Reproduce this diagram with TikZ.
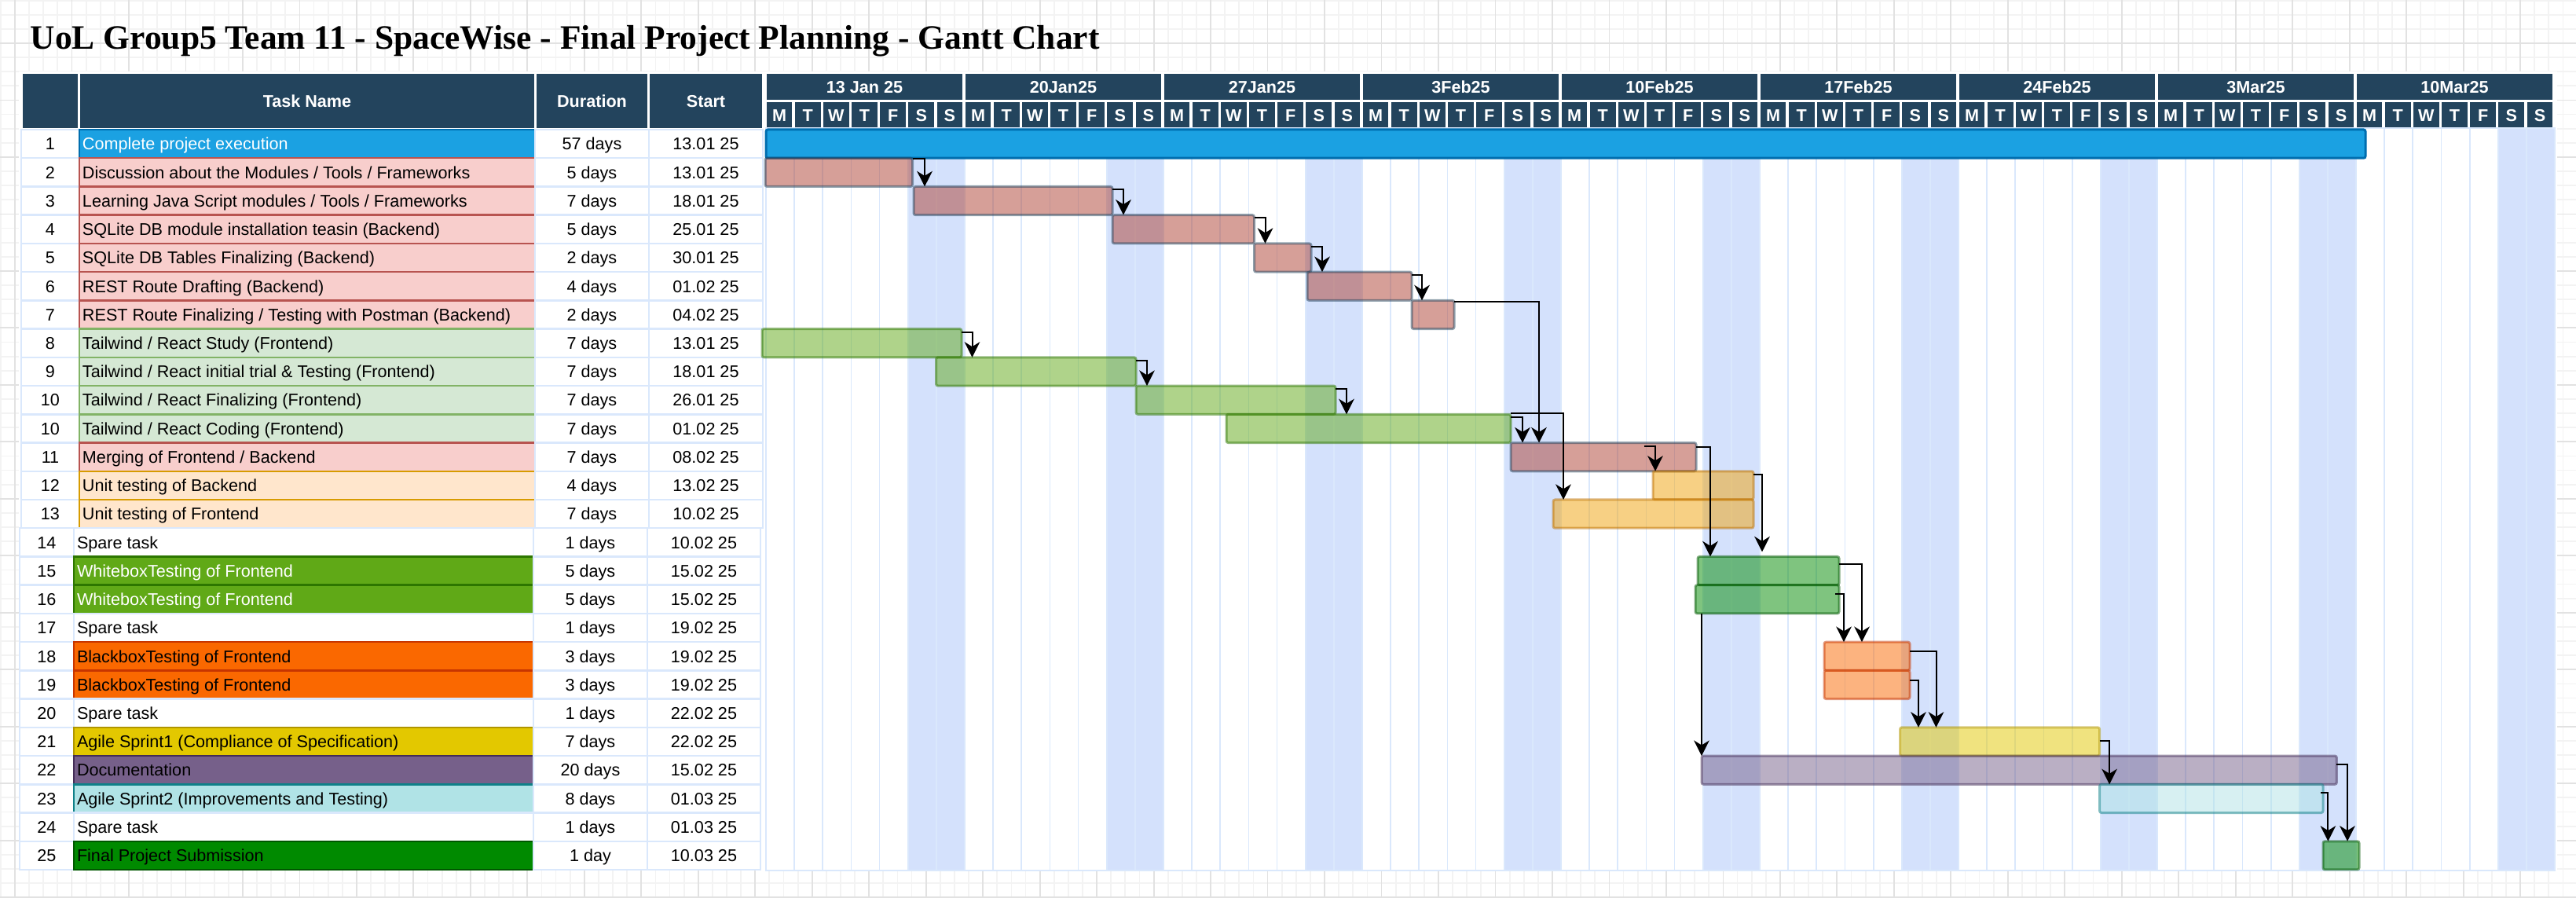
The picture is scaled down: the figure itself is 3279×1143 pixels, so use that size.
\documentclass[tikz,border=0pt]{standalone}
\usepackage{fontspec}
\setmainfont{Liberation Sans}
\newfontfamily\titlefont{Liberation Serif}
\usetikzlibrary{arrows.meta,calc}

\definecolor{hdr}{HTML}{23445D}
\definecolor{gridmin}{HTML}{F3F3F3}
\definecolor{gridmaj}{HTML}{E2E2E2}
\definecolor{lblue}{HTML}{DAE8FC}
\definecolor{wkend}{HTML}{D4E1FC}
\definecolor{blueF}{HTML}{1BA1E2}\definecolor{blueS}{HTML}{006EAF}
\definecolor{pinkF}{HTML}{F8CECC}\definecolor{pinkS}{HTML}{B85450}
\definecolor{lgrnF}{HTML}{D5E8D4}\definecolor{lgrnS}{HTML}{82B366}
\definecolor{lambF}{HTML}{FFE6CC}\definecolor{lambS}{HTML}{D79B00}
\definecolor{grnF}{HTML}{60A917}\definecolor{grnS}{HTML}{2D7600}
\definecolor{orgF}{HTML}{FA6800}\definecolor{orgS}{HTML}{C73500}
\definecolor{ylwF}{HTML}{E3C800}\definecolor{ylwS}{HTML}{B09500}
\definecolor{purF}{HTML}{76608A}\definecolor{purS}{HTML}{432D57}
\definecolor{cynF}{HTML}{B0E3E6}\definecolor{cynS}{HTML}{0E8088}
\definecolor{dgrF}{HTML}{008A00}\definecolor{dgrS}{HTML}{005700}
\definecolor{redB}{HTML}{AE4132}
\definecolor{ambB}{HTML}{F0A30A}\definecolor{ambS}{HTML}{BD7000}

\newcommand\trow[8]{%
  \pgfmathsetmacro\rowtop{165+36.23*#1}%
  \pgfmathsetmacro\rowmid{\rowtop+18.115}%
  \ifnum#1<14 \def\cxa{27}\def\cxb{101}\def\cxc{681}\def\cxd{826}\def\cxe{971}%
  \else \def\cxa{25}\def\cxb{94}\def\cxc{679}\def\cxd{824}\def\cxe{968}\fi
  \node[wcell, minimum width={(\cxb-\cxa)*0.25pt}, anchor=north west] (num#1) at (\cxa,\rowtop) {#2};
  \node[tcell, fill=#6, draw=#7, minimum width={(\cxc-\cxb)*0.25pt}, anchor=north west] (task#1) at (\cxb,\rowtop) {};
  \node[wcell, minimum width={(\cxd-\cxc)*0.25pt}, anchor=north west] (dur#1) at (\cxc,\rowtop) {#4};
  \node[wcell, minimum width={(\cxe-\cxd)*0.25pt}, anchor=north west] (st#1) at (\cxd,\rowtop) {#5};
  \node[txt, text=#8, anchor=west] (tt#1) at (\cxb+4,\rowmid) {#3};
}
\newcommand\gbar[7][]{%
  \pgfmathsetmacro\bartop{165+36.23*#3}%
  \node[bar, fill=#6, draw=#7, minimum width={(#5-#4)*0.25pt}, anchor=north west, #1] (#2) at (#4,\bartop) {};
}

\begin{document}
\begin{tikzpicture}[x=0.25pt,y=-0.25pt,
  txt/.style={font=\fontsize{5.4pt}{6pt}\selectfont, inner sep=0pt, outer sep=0pt, text height=3.9pt, text depth=0pt},
  wcell/.style={rectangle, fill=white, draw=lblue, line width=0.625pt, inner sep=0pt, outer sep=0pt, minimum height=9.0575pt, txt},
  tcell/.style={rectangle, line width=0.625pt, inner sep=0pt, outer sep=0pt, minimum height=9.0575pt},
  hcell/.style={rectangle, fill=hdr, draw=white, line width=0.875pt, inner sep=0pt, outer sep=0pt, text=white, txt, font=\fontsize{5.4pt}{6pt}\selectfont\bfseries},
  bar/.style={rectangle, rounded corners=0.6pt, inner sep=0pt, outer sep=0pt, line width=0.75pt, fill opacity=0.5, draw opacity=0.5, minimum height=9.0575pt},
  dayline/.style={draw=lblue, line width=0.45pt},
  arr/.style={draw=black, line width=0.5pt, -{Stealth[length=4.9pt,width=4.9pt,inset=1.5pt]}}
]
\useasboundingbox (0,0) rectangle (3279,1143);
\fill[white] (0,0) rectangle (3279,1143);
% canvas grid
\foreach \k in {-1,...,179} {\pgfmathsetmacro\gx{19+18.12*\k}\draw[gridmin, line width=0.45pt] (\gx,0) -- (\gx,1143);}
\foreach \k in {-3,...,60} {\pgfmathsetmacro\gy{55+18.12*\k}\draw[gridmin, line width=0.45pt] (0,\gy) -- (3279,\gy);}
\foreach \k in {0,...,44} {\pgfmathsetmacro\gx{19+72.48*\k}\draw[gridmaj, line width=0.45pt] (\gx,0) -- (\gx,1143);}
\foreach \k in {0,...,15} {\pgfmathsetmacro\gy{55+72.48*\k}\draw[gridmaj, line width=0.45pt] (0,\gy) -- (3279,\gy);}
% container
\fill[white] (24,91) rectangle (3255,1108);
% title
\node[anchor=base west, inner sep=0pt, font=\titlefont\bfseries\fontsize{10.87pt}{12pt}\selectfont] (title) at (38,63) {UoL Group5 Team 11 - SpaceWise - Final Project Planning - Gantt Chart};
% table header
\node[hcell, minimum width={73.5*0.25pt}, minimum height={72.5*0.25pt}, anchor=north west] (hnum) at (27,92.5) {};
\node[hcell, minimum width={581*0.25pt}, minimum height={72.5*0.25pt}, anchor=north west] (htask) at (100.5,92.5) {Task Name};
\node[hcell, minimum width={144*0.25pt}, minimum height={72.5*0.25pt}, anchor=north west] (hdur) at (681.5,92.5) {Duration};
\node[hcell, minimum width={146*0.25pt}, minimum height={72.5*0.25pt}, anchor=north west] (hst) at (825.5,92.5) {Start};
% chart header
\foreach \w/\lab in {0/13 Jan 25,1/20Jan25,2/27Jan25,3/3Feb25,4/10Feb25,5/17Feb25,6/24Feb25,7/3Mar25,8/10Mar25} {
  \pgfmathsetmacro\wx{974+253*\w}
  \node[hcell, minimum width={253*0.25pt}, minimum height={36.2*0.25pt}, anchor=north west] (wk\w) at (\wx,92.5) {\lab};
  \foreach \j/\dl in {0/M,1/T,2/W,3/T,4/F,5/S,6/S} {
    \pgfmathsetmacro\dx{974+253*\w+36.143*\j}
    \node[hcell, minimum width={36.143*0.25pt}, minimum height={36.3*0.25pt}, anchor=north west] (d\w-\j) at (\dx,128.7) {\dl};
  }
}
% chart body
\foreach \w in {0,...,8} {\fill[wkend] ({975+253*\w+5*36.143},163) rectangle +(72.29,945);}
\foreach \d in {1,...,62} {\draw[dayline] ({975+36.143*\d},163) -- ++(0,945);}
\draw[dayline] (975,163) rectangle (3252,1108);
% table rows
\trow{0}{1}{Complete project execution}{57 days}{13.01 25}{blueF}{blueS}{white}
\trow{1}{2}{Discussion about the Modules / Tools / Frameworks}{5 days}{13.01 25}{pinkF}{pinkS}{black}
\trow{2}{3}{Learning Java Script modules / Tools / Frameworks}{7 days}{18.01 25}{pinkF}{pinkS}{black}
\trow{3}{4}{SQLite DB module installation teasin (Backend)}{5 days}{25.01 25}{pinkF}{pinkS}{black}
\trow{4}{5}{SQLite DB Tables Finalizing (Backend)}{2 days}{30.01 25}{pinkF}{pinkS}{black}
\trow{5}{6}{REST Route Drafting (Backend)}{4 days}{01.02 25}{pinkF}{pinkS}{black}
\trow{6}{7}{REST Route Finalizing / Testing with Postman (Backend)}{2 days}{04.02 25}{pinkF}{pinkS}{black}
\trow{7}{8}{Tailwind / React Study (Frontend)}{7 days}{13.01 25}{lgrnF}{lgrnS}{black}
\trow{8}{9}{Tailwind / React initial trial \& Testing (Frontend)}{7 days}{18.01 25}{lgrnF}{lgrnS}{black}
\trow{9}{10}{Tailwind / React Finalizing (Frontend)}{7 days}{26.01 25}{lgrnF}{lgrnS}{black}
\trow{10}{10}{Tailwind / React Coding (Frontend)}{7 days}{01.02 25}{lgrnF}{lgrnS}{black}
\trow{11}{11}{Merging of Frontend / Backend}{7 days}{08.02 25}{pinkF}{pinkS}{black}
\trow{12}{12}{Unit testing of Backend}{4 days}{13.02 25}{lambF}{lambS}{black}
\trow{13}{13}{Unit testing of Frontend}{7 days}{10.02 25}{lambF}{lambS}{black}
\trow{14}{14}{Spare task}{1 days}{10.02 25}{white}{lblue}{black}
\trow{15}{15}{WhiteboxTesting of Frontend}{5 days}{15.02 25}{grnF}{grnS}{white}
\trow{16}{16}{WhiteboxTesting of Frontend}{5 days}{15.02 25}{grnF}{grnS}{white}
\trow{17}{17}{Spare task}{1 days}{19.02 25}{white}{lblue}{black}
\trow{18}{18}{BlackboxTesting of Frontend}{3 days}{19.02 25}{orgF}{orgS}{black}
\trow{19}{19}{BlackboxTesting of Frontend}{3 days}{19.02 25}{orgF}{orgS}{black}
\trow{20}{20}{Spare task}{1 days}{22.02 25}{white}{lblue}{black}
\trow{21}{21}{Agile Sprint1 (Compliance of Specification)}{7 days}{22.02 25}{ylwF}{ylwS}{black}
\trow{22}{22}{Documentation}{20 days}{15.02 25}{purF}{purS}{black}
\trow{23}{23}{Agile Sprint2 (Improvements and Testing)}{8 days}{01.03 25}{cynF}{cynS}{black}
\trow{24}{24}{Spare task}{1 days}{01.03 25}{white}{lblue}{black}
\trow{25}{25}{Final Project Submission}{1 day}{10.03 25}{dgrF}{dgrS}{black}
% bars
\gbar[fill opacity=1, draw opacity=1]{b1}{0}{975}{3011}{blueF}{blueS}
\gbar{b2}{1}{974}{1161.5}{redB}{hdr}
\gbar{b3}{2}{1163}{1416}{redB}{hdr}
\gbar{b4}{3}{1416}{1596.5}{redB}{hdr}
\gbar{b5}{4}{1596.5}{1669}{redB}{hdr}
\gbar{b6}{5}{1664}{1797}{redB}{hdr}
\gbar{b7}{6}{1797}{1851}{redB}{hdr}
\gbar{b8}{7}{970}{1224}{grnF}{grnS}
\gbar{b9}{8}{1191.5}{1446}{grnF}{grnS}
\gbar{b10}{9}{1446}{1700}{grnF}{grnS}
\gbar{b10b}{10}{1561}{1923}{grnF}{grnS}
\gbar{b11}{11}{1923}{2159}{redB}{hdr}
\gbar{b12}{12}{2104}{2232}{ambB}{ambS}
\gbar{b13}{13}{1977}{2232}{ambB}{ambS}
\gbar{b15}{15}{2161}{2341}{dgrF}{dgrS}
\gbar{b16}{16}{2158}{2341}{dgrF}{dgrS}
\gbar{b18}{18}{2322}{2431}{orgF}{orgS}
\gbar{b19}{19}{2322}{2431}{orgF}{orgS}
\gbar{b21}{21}{2418.5}{2672.6}{ylwF}{ylwS}
\gbar{b22}{22}{2166}{2974.4}{purF}{purS}
\gbar{b23}{23}{2672.6}{2957}{cynF}{cynS}
\gbar{b25}{25}{2957}{3003}{dgrF}{dgrS}
% dependencies
\coordinate (s17) at ($(b16.south west)+(8,0)$);
\draw[arr] ($(b2.north east)+(0,1)$) -| ($(b3.north west)+(14,0)$);
\draw[arr] ($(b3.north east)+(0,3.5)$) -| ($(b4.north west)+(14,0)$);
\draw[arr] ($(b4.north east)+(0,3.5)$) -| ($(b5.north west)+(14,0)$);
\draw[arr] ($(b5.north east)+(0,4)$) -| ($(b6.north west)+(19,0)$);
\draw[arr] ($(b6.north east)+(0,4)$) -| ($(b7.north west)+(13,0)$);
\draw[arr] ($(b7.north east)+(0,1.6)$) -| ($(b11.north west)+(36,0)$);
\draw[arr] ($(b8.north east)+(0,4)$) -| ($(b9.north west)+(46,0)$);
\draw[arr] ($(b9.north east)+(0,4)$) -| ($(b10.north west)+(14,0)$);
\draw[arr] ($(b10.north east)+(0,4)$) -| ($(b10b.north west)+(153,0)$);
\draw[arr] ($(b10b.north east)+(0,4)$) -| ($(b11.north west)+(15,0)$);
\draw[arr] ($(b10b.north east)+(0,-1)$) -| ($(b13.north west)+(13,0)$);
\draw[arr] ($(b11.north west)+(170,4)$) -| ($(b12.north west)+(3,0)$);
\draw[arr] ($(b11.north east)+(0,5)$) -| ($(b15.north west)+(16,0)$);
\draw[arr] ($(b12.north east)+(0,4)$) -| ($(b15.north west)+(82,-6)$);
\draw[arr] ($(b15.north east)+(0,10)$) -| ($(b18.north west)+(48,0)$);
\draw[arr] ($(b16.north east)+(-5,11)$) -| ($(b18.north west)+(25,0)$);
\draw[arr] (s17) -- (s17 |- b22.north);
\draw[arr] ($(b18.north east)+(0,12)$) -| ($(b21.north west)+(46,0)$);
\draw[arr] ($(b19.north east)+(0,13)$) -| ($(b21.north west)+(23.5,0)$);
\draw[arr] ($(b21.north east)+(0,17)$) -| ($(b23.north west)+(12.5,0)$);
\draw[arr] ($(b22.north east)+(0,10.7)$) -| ($(b25.north west)+(31,0)$);
\draw[arr] ($(b23.north east)+(-3,11)$) -| ($(b25.north west)+(6.4,0)$);
\end{tikzpicture}
\end{document}
